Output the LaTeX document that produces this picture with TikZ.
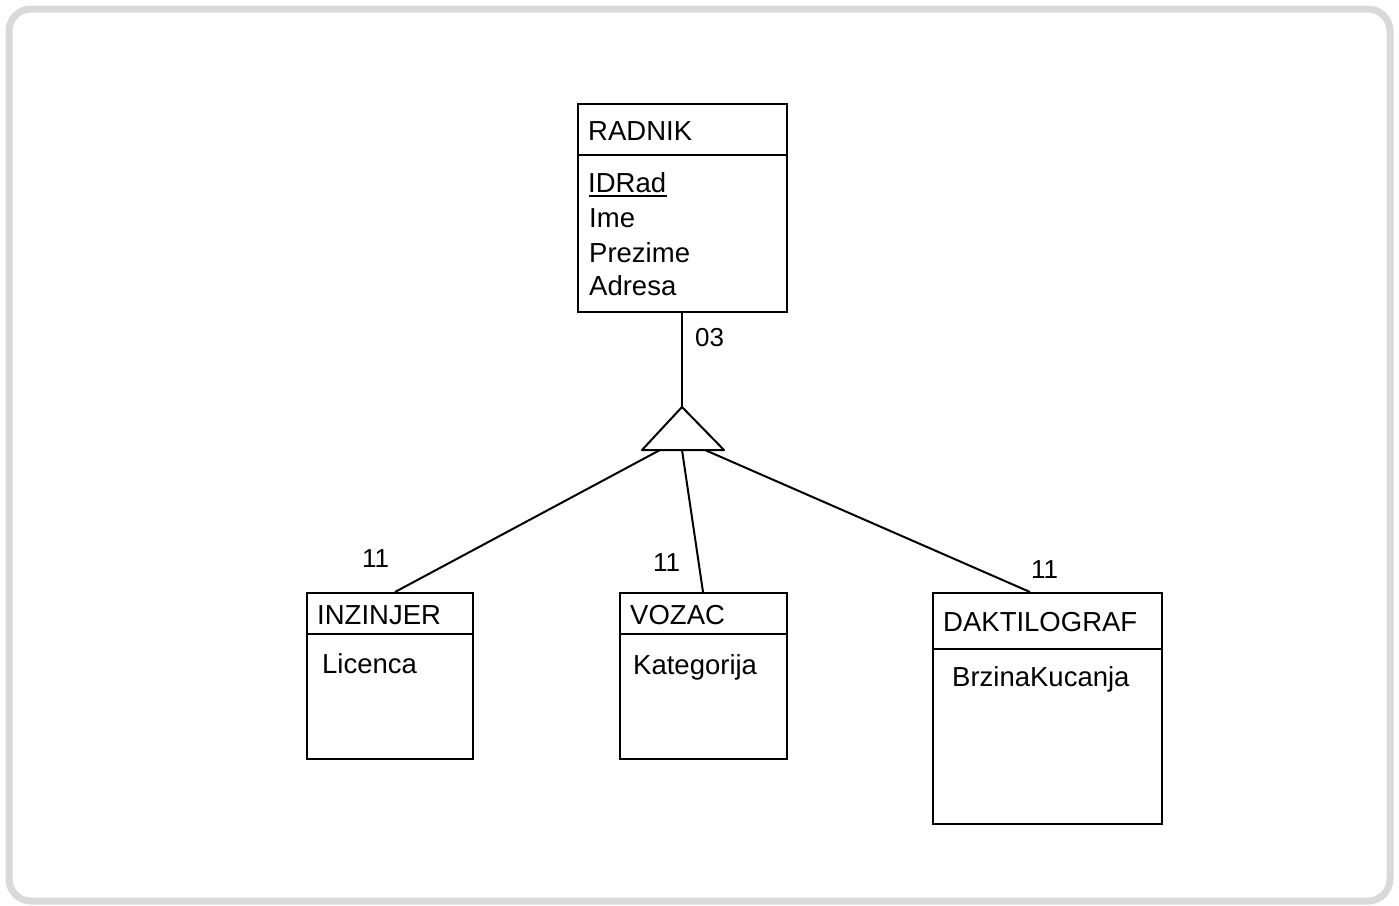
\documentclass[tikz,border=0pt]{standalone}
\usepackage{fontspec}
\setmainfont{Liberation Sans}
\usetikzlibrary{calc}
\begin{document}
\begin{tikzpicture}[x=1pt,y=-1pt,
  entity/.style={draw=black, line width=2pt, fill=white, anchor=north west, inner sep=0pt},
  divider/.style={line width=2pt},
  link/.style={line width=2pt},
  lbl/.style={anchor=base west, inner sep=0pt, font=\fontsize{27.5}{32}\selectfont},
  card/.style={anchor=base west, inner sep=0pt, font=\fontsize{26}{30}\selectfont}]
  \useasboundingbox (0,0) rectangle (1399,905);
  % outer frame
  \draw[draw=black!15, line width=7pt, rounded corners=22pt] (9,9) rectangle (1390,901);

  % RADNIK entity
  \node[entity, minimum width=209pt, minimum height=208pt] (radnik) at (577,103) {};
  \draw[divider] (577,155) -- (786,155);
  \node[lbl] (radnikT) at (588,140) {RADNIK};
  \node[lbl] (idrad) at (588,192) {IDRad};
  \draw[line width=1.5pt] (589,196) -- (667,196);
  \node[lbl] (ime) at (589,227) {Ime};
  \node[lbl] (prezime) at (589,262) {Prezime};
  \node[lbl] (adresa) at (589,295) {Adresa};

  % INZINJER entity
  \node[entity, minimum width=166pt, minimum height=166pt] (inz) at (306,592) {};
  \draw[divider] (306,634) -- (472,634);
  \node[lbl] (inzT) at (317,624) {INZINJER};
  \node[lbl] (licenca) at (322,673) {Licenca};

  % VOZAC entity
  \node[entity, minimum width=167pt, minimum height=166pt] (voz) at (619,592) {};
  \draw[divider] (619,634) -- (786,634);
  \node[lbl] (vozT) at (630,624) {VOZAC};
  \node[lbl] (kat) at (633,674) {Kategorija};

  % DAKTILOGRAF entity
  \node[entity, minimum width=229pt, minimum height=231pt] (dak) at (932,592) {};
  \draw[divider] (932,649) -- (1161,649);
  \node[lbl] (dakT) at (943,631) {DAKTILOGRAF};
  \node[lbl] (brzina) at (952,686) {BrzinaKucanja};

  % specialization triangle
  \coordinate (apex) at (682,407);
  \coordinate (bl) at (642,450);
  \coordinate (br) at (724,450);
  \coordinate (b1) at (660,450);
  \coordinate (b2) at (682,450);
  \coordinate (b3) at (705,450);
  \draw[link, line join=round] (apex) -- (bl) -- (br) -- cycle;

  % connectors
  \draw[link] (radnik.south -| apex) -- (apex);
  \coordinate (inzTop) at ($(inz.north west)+(89,0)$);
  \coordinate (vozTop) at ($(voz.north west)+(84,0)$);
  \coordinate (dakTop) at ($(dak.north west)+(98,0)$);
  \draw[link] (b1) -- (inzTop);
  \draw[link] (b2) -- (vozTop);
  \draw[link] (b3) -- (dakTop);

  % cardinalities
  \node[card] (c0) at (695,346) {03};
  \node[card] (c1) at (362,567) {11};
  \node[card] (c2) at (653,571) {11};
  \node[card] (c3) at (1031,578) {11};
\end{tikzpicture}
\end{document}
